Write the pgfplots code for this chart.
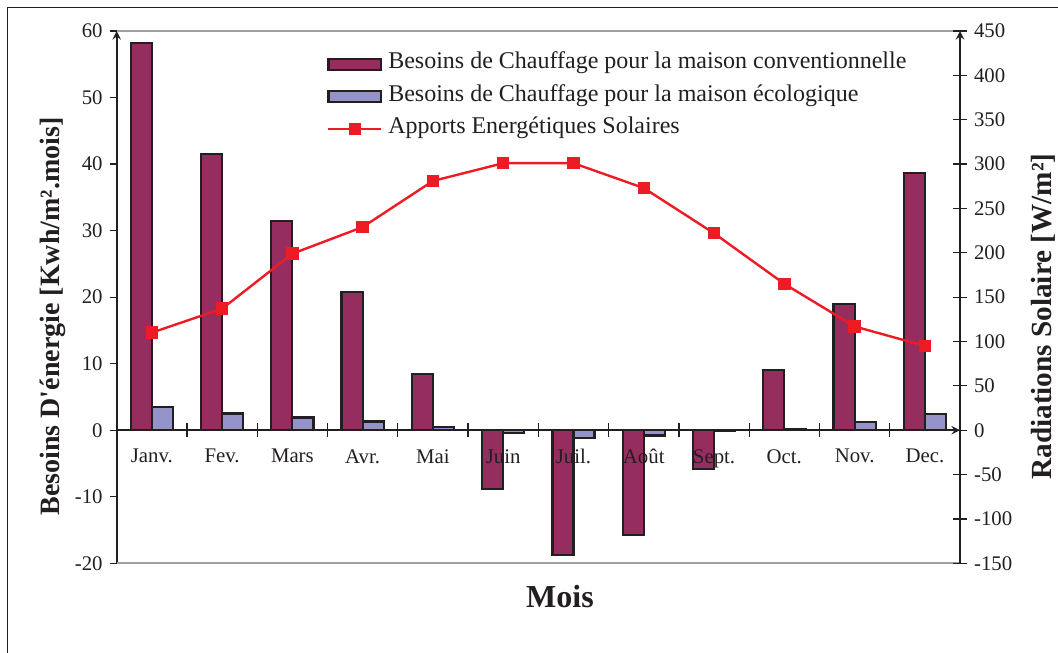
\documentclass[border=0pt]{standalone}
\usepackage{pgfplots}
\pgfplotsset{compat=1.18}
\usepackage{fontspec}
\setmainfont{Liberation Serif}

\definecolor{conv}{RGB}{150,45,95}
\definecolor{eco}{RGB}{148,148,200}
\definecolor{sol}{RGB}{237,28,36}
\definecolor{txt}{RGB}{35,31,32}
\definecolor{frame}{RGB}{160,160,160}

% common geometry: 1 px of the reference = 0.5pt
\pgfplotsset{
  base/.style={
    scale only axis, width=421.65pt, height=266.15pt,
    at={(58.35pt,-281.65pt)}, anchor=south west,
    xmin=-0.5, xmax=11.5,
    ticklabel style={font=\fontsize{10.4}{12}\selectfont, text=txt},
    /pgf/number format/assume math mode=true,
    axis line style={txt, line width=0.9pt, -},
    tick style={txt, line width=0.6pt},
  },
  barlegend/.style={legend image code/.code={%
    \draw[##1,/tikz/.cd] (0pt,-2.75pt) rectangle (26.3pt,2.75pt);}},
  linelegend/.style={legend image code/.code={%
    \draw[mark repeat=2, mark phase=2, ##1]
      plot coordinates {(0pt,0pt) (13.15pt,0pt) (26.3pt,0pt)};}},
}

\begin{document}
\begin{tikzpicture}
\useasboundingbox (0pt,0pt) rectangle (529pt,-326pt);
\draw[txt, line width=0.7pt] (3.65pt,-3.65pt) rectangle (600pt,-400pt);

% left axis: heating needs (bars)
\begin{axis}[base,
  ymin=-20, ymax=60, ytick={-20,-10,...,60},
  axis x line=none, axis y line=left,
  tick align=outside, major tick length=3.5pt,
  legend cell align=left,
  legend style={at={(0.2497,0.9588)}, anchor=north west,
    draw=none, fill=none, inner sep=0pt, outer sep=0pt,
    row sep=5pt, column sep=2pt,
    font=\fontsize{12}{14}\selectfont, text=txt,
    nodes={inner sep=1pt, text height=0.7em, text depth=0.22em}},
]
\draw[frame, line width=1pt] (rel axis cs:0,1) -- (rel axis cs:1,1);
\draw[frame, line width=1pt] (rel axis cs:0,0) -- (rel axis cs:1,0);

\addplot[ybar, bar width=0.3, bar shift=-0.15, fill=conv, draw=txt, line width=1.1pt, barlegend]
  coordinates {(0,58.2) (1,41.5) (2,31.5) (3,20.8) (4,8.5) (5,-8.8)
               (6,-18.8) (7,-15.8) (8,-5.8) (9,9.0) (10,19.0) (11,38.7)};
\addlegendentry{Besoins de Chauffage pour la maison conventionnelle}

\addplot[ybar, bar width=0.3, bar shift=0.15, fill=eco, draw=txt, line width=1.1pt, barlegend]
  coordinates {(0,3.5) (1,2.5) (2,1.9) (3,1.3) (4,0.5) (5,-0.4)
               (6,-1.2) (7,-0.8) (8,-0.1) (9,0.2) (10,1.2) (11,2.4)};
\addlegendentry{Besoins de Chauffage pour la maison écologique}

\addlegendimage{sol, line width=1.2pt, mark=square*, mark size=2.5pt, linelegend}
\addlegendentry{Apports Energétiques Solaires}
\end{axis}

% right axis: solar radiation (line) and month axis at zero
\begin{axis}[base,
  ymin=-150, ymax=450, ytick={-150,-100,...,450},
  axis y line=right, axis x line=middle,
  tick align=center, major tick length=7pt,
  xtick={-0.5,0.5,1.5,2.5,3.5,4.5,5.5,6.5,7.5,8.5,9.5,10.5,11.5},
  x tick label as interval, hide obscured x ticks=false,
  xticklabels={Janv.,Fev.,Mars,Avr.,Mai,Juin,Juil.,Août,Sept.,Oct.,Nov.,Dec.},
  x tick label style={yshift=-2.5pt},
]
\addplot[sol, line width=1.2pt, mark=square*, mark size=2.5pt]
  coordinates {(0,110) (1,137) (2,199) (3,229) (4,281) (5,301)
               (6,301) (7,273) (8,222) (9,165) (10,117) (11,95)};
\end{axis}

\node[rotate=90, text=txt, font=\bfseries\fontsize{14}{16}\selectfont]
  at (26.5pt,-158.25pt) {Besoins D\textquotesingle énergie [Kwh/m².mois]};
\node[rotate=90, text=txt, font=\bfseries\fontsize{14.6}{16}\selectfont]
  at (521.5pt,-158.25pt) {Radiations Solaire [W/m²]};
\node[anchor=base, text=txt, font=\bfseries\fontsize{16}{18}\selectfont]
  at (280pt,-303.5pt) {Mois};
\end{tikzpicture}
\end{document}
